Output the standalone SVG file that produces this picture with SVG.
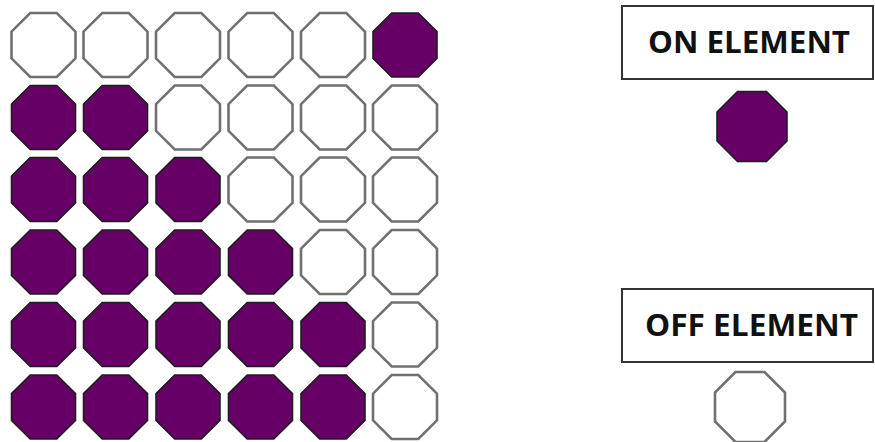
<svg xmlns="http://www.w3.org/2000/svg" xmlns:xlink="http://www.w3.org/1999/xlink" width="875" height="442" viewBox="0 0 875 442">
<style>
.on{fill:#660066;stroke:#1e1e1e;stroke-width:1.6}
.off{fill:#ffffff;stroke:#707070;stroke-width:2.6}
.box{fill:#ffffff;stroke:#333333;stroke-width:2}
.lbl{font-family:"Open Sans","Liberation Sans",sans-serif;font-weight:bold;font-size:30px;fill:#111111}
</style>
<defs>
<polygon id="oct" points="-13.3,-32 13.3,-32 32,-13.3 32,13.3 13.3,32 -13.3,32 -32,13.3 -32,-13.3"/>
<polygon id="octL" points="-14.5,-35 14.5,-35 35,-14.5 35,14.5 14.5,35 -14.5,35 -35,14.5 -35,-14.5"/>
</defs>
<g id="grid">
<g id="r0">
<use href="#oct" class="off" x="43.5" y="45"/><use href="#oct" class="off" x="115.5" y="45"/><use href="#oct" class="off" x="188" y="45"/><use href="#oct" class="off" x="260.5" y="45"/><use href="#oct" class="off" x="333" y="45"/><use href="#oct" class="on" x="405" y="45"/>
</g>
<g id="r1">
<use href="#oct" class="on" x="43.5" y="117.5"/><use href="#oct" class="on" x="115.5" y="117.5"/><use href="#oct" class="off" x="188" y="117.5"/><use href="#oct" class="off" x="260.5" y="117.5"/><use href="#oct" class="off" x="333" y="117.5"/><use href="#oct" class="off" x="405" y="117.5"/>
</g>
<g id="r2">
<use href="#oct" class="on" x="43.5" y="189.5"/><use href="#oct" class="on" x="115.5" y="189.5"/><use href="#oct" class="on" x="188" y="189.5"/><use href="#oct" class="off" x="260.5" y="189.5"/><use href="#oct" class="off" x="333" y="189.5"/><use href="#oct" class="off" x="405" y="189.5"/>
</g>
<g id="r3">
<use href="#oct" class="on" x="43.5" y="262"/><use href="#oct" class="on" x="115.5" y="262"/><use href="#oct" class="on" x="188" y="262"/><use href="#oct" class="on" x="260.5" y="262"/><use href="#oct" class="off" x="333" y="262"/><use href="#oct" class="off" x="405" y="262"/>
</g>
<g id="r4">
<use href="#oct" class="on" x="43.5" y="334.5"/><use href="#oct" class="on" x="115.5" y="334.5"/><use href="#oct" class="on" x="188" y="334.5"/><use href="#oct" class="on" x="260.5" y="334.5"/><use href="#oct" class="on" x="333" y="334.5"/><use href="#oct" class="off" x="405" y="334.5"/>
</g>
<g id="r5">
<use href="#oct" class="on" x="43.5" y="407"/><use href="#oct" class="on" x="115.5" y="407"/><use href="#oct" class="on" x="188" y="407"/><use href="#oct" class="on" x="260.5" y="407"/><use href="#oct" class="on" x="333" y="407"/><use href="#oct" class="off" x="405" y="407"/>
</g>
</g>
<g id="on-legend">
<rect class="box" x="622" y="6" width="251" height="73"/>
<text class="lbl" x="648" y="53" textLength="202" lengthAdjust="spacingAndGlyphs">ON ELEMENT</text>
<use href="#octL" class="on" x="752" y="126.5"/>
</g>
<g id="off-legend">
<rect class="box" x="622" y="289" width="251" height="73"/>
<text class="lbl" x="645" y="336" textLength="213" lengthAdjust="spacingAndGlyphs">OFF ELEMENT</text>
<use href="#octL" class="off" x="750" y="407"/>
</g>
<g id="connectors"/>
</svg>
